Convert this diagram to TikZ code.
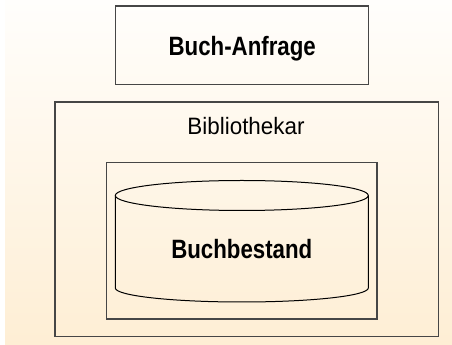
\documentclass[tikz,border=0pt]{standalone}
\usepackage{fontspec}
\setmainfont{Liberation Sans}
\newfontfamily\labelbold[FakeStretch=0.84]{Liberation Sans Bold}
\newfontfamily\labelreg[FakeStretch=0.945]{Liberation Sans}
\definecolor{framegray}{RGB}{70,70,70}
\definecolor{peach}{RGB}{254,238,212}
\definecolor{paper}{RGB}{255,254,252}
\tikzset{
  frame/.style={draw=framegray, line width=1.2pt, fill=none},
  drum/.style={draw=black, line width=1pt},
  boldlabel/.style={font=\labelbold\fontsize{26.5}{30}\selectfont, anchor=base, inner sep=0pt},
  plainlabel/.style={font=\labelreg\fontsize{23.7}{28}\selectfont, anchor=base, inner sep=0pt}
}
\begin{document}
\begin{tikzpicture}[x=1pt,y=1pt]
  % page and shaded backdrop
  \fill[white] (0,0) rectangle (452,345);
  \shade[top color=paper, bottom color=peach] (5,0) rectangle (452,345);
  \useasboundingbox (0,0) rectangle (452,345);

  % request box
  \node[frame, rectangle, minimum width=253pt, minimum height=78.3pt, inner sep=0pt]
    (anfrage) at (241.8,299.8) {};
  \node[boldlabel] (anfragetext) at (242.2,289) {Buch-Anfrage};

  % librarian frame
  \node[frame, rectangle, minimum width=383.3pt, minimum height=234.7pt, inner sep=0pt]
    (bibliothekar) at (246.6,125.6) {};
  \node[plainlabel] (bibliothekartext) at (246,210.7) {Bibliothekar};

  % stock frame
  \node[frame, rectangle, minimum width=270.3pt, minimum height=156.3pt, inner sep=0pt]
    (bestand) at (241.8,104.1) {};

  % drum shaped store
  \draw[drum] (241.8,149.5) ellipse [x radius=126.5, y radius=15];
  \draw[drum] (115.3,149.5) -- (115.3,57)
    arc [start angle=180, end angle=360, x radius=126.5, y radius=14]
    -- (368.3,149.5);
  \node[boldlabel] (bestandtext) at (241.8,86.7) {Buchbestand};
\end{tikzpicture}
\end{document}
